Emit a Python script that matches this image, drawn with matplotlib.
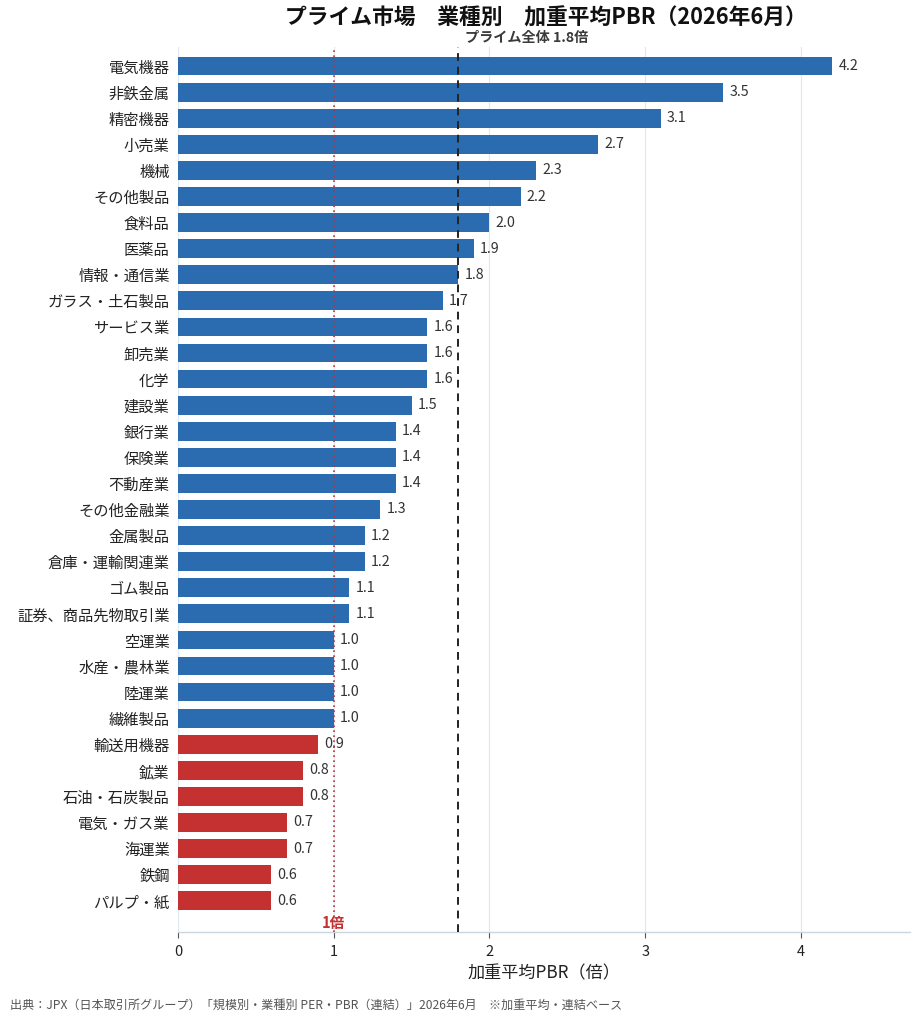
import matplotlib
matplotlib.use("Agg")
import matplotlib.pyplot as plt

plt.rcParams['font.family'] = ['Noto Sans CJK JP', 'DejaVu Sans']

categories = ["電気機器", "非鉄金属", "精密機器", "小売業", "機械", "その他製品", "食料品", "医薬品",
              "情報・通信業", "ガラス・土石製品", "サービス業", "卸売業", "化学", "建設業", "銀行業",
              "保険業", "不動産業", "その他金融業", "金属製品", "倉庫・運輸関連業", "ゴム製品",
              "証券、商品先物取引業", "空運業", "水産・農林業", "陸運業", "繊維製品", "輸送用機器",
              "鉱業", "石油・石炭製品", "電気・ガス業", "海運業", "鉄鋼", "パルプ・紙"]
values = [4.2, 3.5, 3.1, 2.7, 2.3, 2.2, 2.0, 1.9, 1.8, 1.7, 1.6, 1.6, 1.6, 1.5, 1.4, 1.4, 1.4,
          1.3, 1.2, 1.2, 1.1, 1.1, 1.0, 1.0, 1.0, 1.0, 0.9, 0.8, 0.8, 0.7, 0.7, 0.6, 0.6]
market_avg = 1.8
threshold = 1.0
xticks = [0, 1, 2, 3, 4]

blue = "#2b6cb0"
red = "#c53030"

fig = plt.figure(figsize=(9.2, 10.24), dpi=100)
ax = fig.add_axes([0.1935, 0.0898, 0.7955, 0.864])

ypos = list(range(len(categories)))
colors = [red if v < threshold else blue for v in values]
ax.barh(ypos, values, height=0.72, color=colors, zorder=3)

for y, v in zip(ypos, values):
    ax.text(v + 0.04, y, f"{v:.1f}", va="center", ha="left", fontsize=10.3, color="#333333", zorder=4)

ax.set_yticks(ypos)
ax.set_yticklabels(categories, fontsize=11.0, color="#222222")
ax.set_ylim(len(categories) - 1 + 1.2, -0.72)
ax.set_xlim(0, 4.7)
ax.set_xticks(xticks)
ax.set_xticklabels([str(t) for t in xticks], fontsize=10.5, color="#222222")
ax.tick_params(axis="y", length=0, pad=6)
ax.tick_params(axis="x", length=4, color="#555555", pad=5)

ax.grid(axis="x", color="#e2e8f0", linewidth=0.9, zorder=0)
ax.set_axisbelow(True)
for s in ["top", "right", "left"]:
    ax.spines[s].set_visible(False)
ax.spines["bottom"].set_color("#cbd5e0")
ax.spines["bottom"].set_linewidth(1.0)

ax.axvline(threshold, color=red, linestyle=(0, (1, 2)), linewidth=1.2, zorder=5)
ax.axvline(market_avg, color="#222222", linestyle=(0, (4, 3)), linewidth=1.4, zorder=5)

ax.text(threshold, len(categories) - 1 + 0.85, "1倍", color=red, fontsize=10.5, fontweight="bold",
        ha="center", va="center", zorder=6)
ax.text(market_avg + 0.045, -0.79, "プライム全体 1.8倍", color="#3a3a3a", fontsize=10.2, fontweight="bold",
        ha="left", va="bottom", zorder=6)

ax.set_xlabel("加重平均PBR（倍）", fontsize=12.3, color="#222222", labelpad=4)

fig.text(0.5935, 0.982, "プライム市場　業種別　加重平均PBR（2026年6月）", fontsize=15.7, fontweight="bold",
         ha="center", va="center", color="#111111")
fig.text(0.011, 0.018, "出典：JPX（日本取引所グループ）「規模別・業種別 PER・PBR（連結）」2026年6月　※加重平均・連結ベース",
         fontsize=8.7, color="#555555", ha="left", va="center")

fig.savefig("out.png", dpi=100)
